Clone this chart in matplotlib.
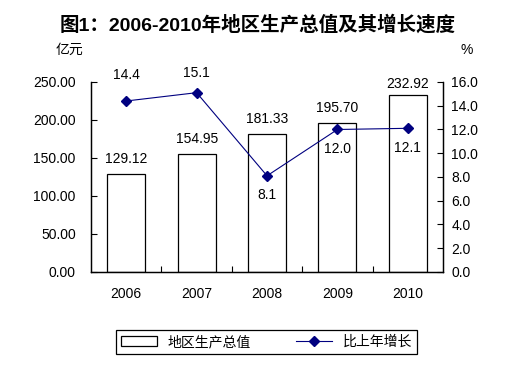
import matplotlib
matplotlib.use('Agg')
import matplotlib.pyplot as plt
from matplotlib.ticker import FixedLocator, FormatStrFormatter

plt.rcParams['font.family'] = ['Liberation Sans', 'Noto Sans CJK SC']

# Data
years = ['2006', '2007', '2008', '2009', '2010']
gdp = [129.12, 154.95, 181.33, 195.70, 232.92]
growth = [14.4, 15.1, 8.1, 12.0, 12.1]

title = '图1：2006-2010年地区生产总值及其增长速度'
bar_name = '地区生产总值'
line_name = '比上年增长'

fig = plt.figure(figsize=(5.16, 3.70), dpi=100)
ax = fig.add_axes([0.1764, 0.2649, 0.6822, 0.5135])
ax2 = ax.twinx()

x = list(range(len(years)))
bars = ax.bar(x, gdp, width=0.54, color='white', edgecolor='black', linewidth=0.9,
              label=bar_name, zorder=2)
line, = ax2.plot(x, growth, color='#000080', linewidth=0.8, marker='D', markersize=5,
                 label=line_name, zorder=3)

ax.set_xlim(-0.5, 4.5)
ax.set_ylim(0, 250)
ax2.set_ylim(0, 16)
ax.set_yticks(range(0, 251, 50))
ax2.set_yticks(range(0, 17, 2))
ax.yaxis.set_major_formatter(FormatStrFormatter('%.2f'))
ax2.yaxis.set_major_formatter(FormatStrFormatter('%.1f'))

ax.set_xticks(x)
ax.set_xticklabels(years)
ax.xaxis.set_minor_locator(FixedLocator([0.5, 1.5, 2.5, 3.5]))
ax.tick_params(axis='x', which='major', length=0, pad=11, labelsize=10)
ax.tick_params(axis='x', which='minor', direction='in', length=4, width=0.8)
ax.tick_params(axis='y', direction='in', length=4, width=0.8, pad=11, labelsize=10)
ax2.tick_params(axis='y', direction='in', length=4, width=0.8, pad=6, labelsize=10)

for a in (ax, ax2):
    a.spines['top'].set_visible(False)
    for s in ('left', 'right', 'bottom'):
        a.spines[s].set_linewidth(0.9)

# bar labels
offs = [6, 6, 6, 6, 3]
for xi, v, dy in zip(x, gdp, offs):
    ax.annotate(f'{v:.2f}', (xi, v), xytext=(0, dy), textcoords='offset points',
                ha='center', va='bottom', fontsize=10)

# line labels
offsets = [(0, 14), (0, 9), (0, -9), (0, -9), (0, -9)]
for xi, v, (dx, dy) in zip(x, growth, offsets):
    ax2.annotate(f'{v:.1f}', (xi, v), xytext=(dx, dy), textcoords='offset points',
                 ha='center', va='bottom' if dy > 0 else 'top', fontsize=10)

fig.text(0.5, 0.932, title, ha='center', va='center', fontsize=14, fontweight='bold')
fig.text(0.107, 0.865, '亿元', ha='left', va='center', fontsize=10)
fig.text(0.892, 0.865, '%', ha='left', va='center', fontsize=10)

leg = fig.legend([bars, line], [bar_name, line_name], loc='center',
                 bbox_to_anchor=(0.5165, 0.0757), ncol=2, fontsize=10,
                 frameon=True, fancybox=False, edgecolor='black', framealpha=1,
                 handlelength=2.6, columnspacing=3.2, borderpad=0.35, borderaxespad=0)
leg.get_frame().set_linewidth(0.9)

plt.savefig('out.png', dpi=100)
